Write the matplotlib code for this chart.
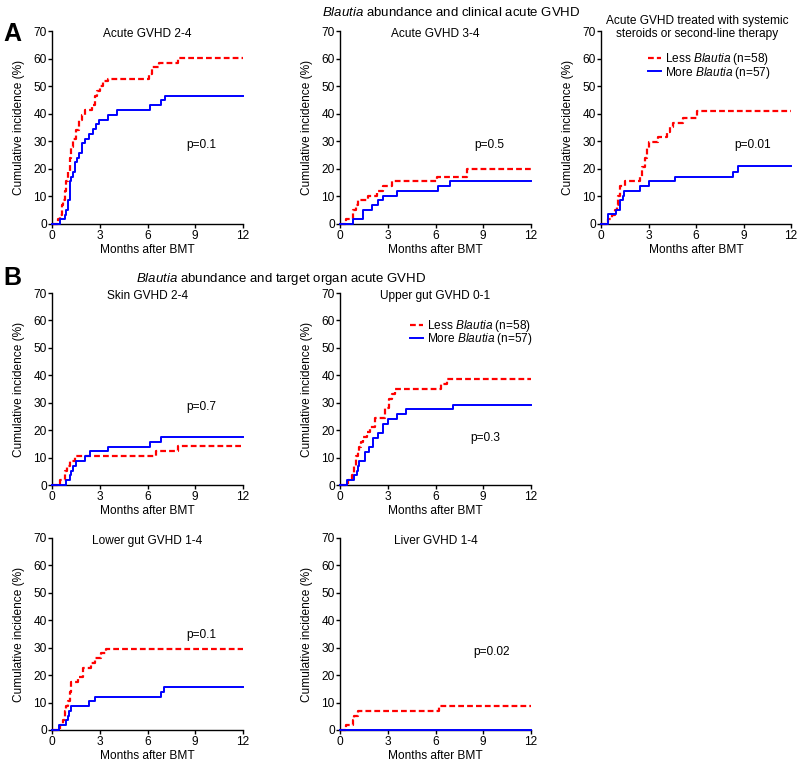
import matplotlib
matplotlib.use('Agg')
import matplotlib.pyplot as plt

plt.rcParams['font.family'] = ['Liberation Sans', 'DejaVu Sans']
plt.rcParams['mathtext.fontset'] = 'custom'
plt.rcParams['mathtext.rm'] = 'Liberation Sans'
plt.rcParams['mathtext.it'] = 'Liberation Sans:italic'

FS = 8.6

# ---- data: step curves (months, cumulative incidence %) ----
# A: acute GVHD 2-4
a24_less_t = [0, 0.4, 0.5, 0.6, 0.7, 0.8, 0.9, 1.0, 1.1, 1.2, 1.35, 1.5, 1.7,
              1.9, 2.1, 2.5, 2.7, 2.85, 3.0, 3.2, 3.5, 6.1, 6.3, 6.7, 7.9, 12]
a24_less_v = [0, 1.7, 3.4, 6.9, 8.6, 12.0, 15.5, 19.0, 24.0, 28.0, 31.0, 34.0,
              37.9, 39.7, 41.4, 43.1, 46.6, 48.3, 50.0, 51.7, 52.6, 54.4, 56.9,
              58.3, 60.2, 60.2]
a24_more_t = [0, 0.48, 0.8, 0.9, 1.0, 1.1, 1.2, 1.35, 1.45, 1.55, 1.7, 1.9,
              2.1, 2.35, 2.55, 2.75, 2.95, 3.5, 4.1, 6.15, 6.85, 7.1, 12]
a24_more_v = [0, 1.7, 3.4, 5.2, 8.6, 15.5, 17.2, 19.0, 22.4, 24.1, 25.9, 29.3,
              31.0, 32.8, 34.5, 36.2, 37.9, 39.6, 41.4, 43.1, 44.8, 46.6, 46.6]

# A: acute GVHD 3-4
a34_less_t = [0, 0.38, 0.84, 1.0, 1.15, 1.78, 2.3, 2.72, 3.25, 6.07, 7.96, 12]
a34_less_v = [0, 1.7, 5.2, 6.9, 8.6, 10.3, 12.1, 13.8, 15.5, 17.2, 19.8, 19.8]
a34_more_t = [0, 0.84, 1.47, 1.99, 2.4, 2.72, 3.56, 6.18, 6.9, 12]
a34_more_v = [0, 1.7, 5.2, 6.9, 8.6, 10.3, 12.1, 13.8, 15.5, 15.5]

# A: treated with steroids / second-line
ster_less_t = [0, 0.46, 0.67, 0.88, 1.0, 1.1, 1.2, 1.5, 2.46, 2.6, 2.75, 2.88,
               3.0, 3.62, 4.15, 4.35, 4.57, 5.2, 6.04, 12]
ster_less_v = [0, 1.7, 3.4, 5.2, 6.9, 10.3, 13.8, 15.5, 17.2, 20.7, 24.1, 27.6,
               29.8, 31.5, 33.3, 35.1, 36.8, 38.6, 40.9, 40.9]
ster_more_t = [0, 0.46, 0.95, 1.2, 1.37, 1.45, 2.46, 3.0, 4.67, 8.36, 8.67, 12]
ster_more_v = [0, 3.5, 5.2, 8.6, 10.3, 12.1, 13.8, 15.5, 17.2, 19.0, 20.9, 20.9]

# B: skin GVHD 2-4
skin_less_t = [0, 0.48, 0.8, 0.95, 1.1, 1.42, 6.53, 7.94, 12]
skin_less_v = [0, 1.7, 5.2, 7.0, 8.8, 10.5, 12.3, 14.2, 14.2]
skin_more_t = [0, 0.9, 1.1, 1.2, 1.35, 1.5, 2.05, 2.37, 3.52, 6.14, 6.83, 12]
skin_more_v = [0, 1.7, 3.5, 5.2, 7.0, 8.8, 10.5, 12.3, 14.0, 15.8, 17.5, 17.5]

# B: upper gut GVHD 0-1
ugut_less_t = [0, 0.53, 0.74, 0.9, 1.0, 1.1, 1.2, 1.3, 1.47, 1.68, 1.9, 2.2,
               2.84, 3.05, 3.26, 3.47, 6.32, 6.74, 12]
ugut_less_v = [0, 1.7, 3.5, 7.0, 10.5, 12.3, 14.0, 15.8, 17.5, 19.3, 21.0, 24.5,
               28.0, 31.5, 33.3, 35.0, 36.8, 38.5, 38.5]
ugut_more_t = [0, 0.46, 0.88, 1.05, 1.15, 1.22, 1.58, 1.85, 2.1, 2.36, 2.7,
               2.99, 3.58, 4.17, 7.12, 12]
ugut_more_v = [0, 1.7, 3.5, 5.2, 6.9, 8.6, 12.1, 13.8, 17.2, 19.0, 22.4, 24.1,
               25.9, 27.6, 29.3, 29.3]

# B: lower gut GVHD 1-4
lgut_less_t = [0, 0.48, 0.69, 0.8, 0.9, 1.0, 1.1, 1.21, 1.63, 1.95, 2.47, 2.68,
               3.1, 3.37, 12]
lgut_less_v = [0, 1.7, 3.5, 7.0, 8.8, 10.5, 14.0, 17.5, 19.2, 22.7, 24.5, 26.2,
               28.0, 29.7, 29.7]
lgut_more_t = [0, 0.44, 0.9, 1.0, 1.07, 1.17, 2.33, 2.72, 6.83, 7.04, 12]
lgut_more_v = [0, 1.7, 3.5, 5.2, 7.0, 8.7, 10.5, 12.2, 14.0, 15.7, 15.7]

# B: liver GVHD 1-4
liver_less_t = [0, 0.38, 0.8, 0.9, 1.16, 6.21, 12]
liver_less_v = [0, 1.7, 3.5, 5.2, 7.0, 8.8, 8.8]
liver_more_t = [0, 12]
liver_more_v = [0, 0]

titles = ['Acute GVHD 2-4', 'Acute GVHD 3-4',
          'Acute GVHD treated with systemic\nsteroids or second-line therapy',
          'Skin GVHD 2-4', 'Upper gut GVHD 0-1',
          'Lower gut GVHD 1-4', 'Liver GVHD 1-4']
p_labels = ['p=0.1', 'p=0.5', 'p=0.01', 'p=0.7', 'p=0.3', 'p=0.1', 'p=0.02']
p_x = [9.35, 9.35, 9.6, 9.35, 9.15, 9.35, 9.55]
p_y = [28.7, 28.7, 28.7, 28.5, 17.0, 34.6, 28.5]

less_label = 'Less $\\it{Blautia}$ (n=58)'
more_label = 'More $\\it{Blautia}$ (n=57)'

RED = '#ff0000'
BLUE = '#0000ff'

W, H = 800.0, 763.0


def px_axes(left, top, right, bottom):
    return [left / W, 1 - bottom / H, (right - left) / W, (bottom - top) / H]


fig = plt.figure(figsize=(8.0, 7.63), dpi=100)

positions = [
    px_axes(52, 31, 243, 224),
    px_axes(340, 31, 531, 224),
    px_axes(601, 31, 791, 224),
    px_axes(52, 293, 243, 485),
    px_axes(340, 293, 531, 485),
    px_axes(52, 538, 243, 730),
    px_axes(340, 538, 531, 730),
]

curves = [
    (a24_less_t, a24_less_v, a24_more_t, a24_more_v),
    (a34_less_t, a34_less_v, a34_more_t, a34_more_v),
    (ster_less_t, ster_less_v, ster_more_t, ster_more_v),
    (skin_less_t, skin_less_v, skin_more_t, skin_more_v),
    (ugut_less_t, ugut_less_v, ugut_more_t, ugut_more_v),
    (lgut_less_t, lgut_less_v, lgut_more_t, lgut_more_v),
    (liver_less_t, liver_less_v, liver_more_t, liver_more_v),
]

# legend anchors (axes fraction) for the panels that carry one
legend_at = {2: (0.245, 0.895), 4: (0.365, 0.87)}

for i, (pos, (lt, lv, mt, mv)) in enumerate(zip(positions, curves)):
    ax = fig.add_axes(pos)
    ax.step(lt, lv, where='post', color=RED, lw=1.6, dashes=(2.6, 1.4),
            clip_on=False, zorder=3, label=less_label)
    ax.step(mt, mv, where='post', color=BLUE, lw=1.4, clip_on=False,
            zorder=4, label=more_label)

    ax.set_xlim(0, 12)
    ax.set_ylim(0, 70)
    ax.set_xticks([0, 3, 6, 9, 12])
    ax.set_yticks(range(0, 71, 10))
    for side in ('top', 'right'):
        ax.spines[side].set_visible(False)
    for side in ('left', 'bottom'):
        ax.spines[side].set_linewidth(1.0)
    ax.tick_params(direction='out', length=3, width=1.0, labelsize=FS,
                   pad=1.5)
    ax.tick_params(axis='y', pad=0.8)

    ax.set_xlabel('Months after BMT', fontsize=FS, labelpad=1)
    ax.set_ylabel('Cumulative incidence (%)', fontsize=FS, labelpad=6)

    if '\n' in titles[i]:
        ax.text(0.505, 1.018, titles[i], transform=ax.transAxes,
                ha='center', va='center', fontsize=FS, linespacing=1.12)
    else:
        ax.text(0.5, 0.985, titles[i], transform=ax.transAxes,
                ha='center', va='center', fontsize=FS)

    ax.text(p_x[i], p_y[i], p_labels[i], ha='center', va='center',
            fontsize=FS)

    if i in legend_at:
        ax.legend(loc='upper left', bbox_to_anchor=legend_at[i],
                  frameon=False, fontsize=FS, handlelength=1.1,
                  handletextpad=0.35, labelspacing=-0.22, borderpad=0,
                  borderaxespad=0)

fig.text(3 / W, 1 - 41 / H, 'A', fontsize=18, fontweight='bold',
         ha='left', va='baseline')
fig.text(3 / W, 1 - 285 / H, 'B', fontsize=18, fontweight='bold',
         ha='left', va='baseline')

fig.text(451 / W, 1 - 13 / H,
         '$\\it{Blautia}$ abundance and clinical acute GVHD',
         fontsize=9.5, ha='center', va='center')
fig.text(281 / W, 1 - 279 / H,
         '$\\it{Blautia}$ abundance and target organ acute GVHD',
         fontsize=9.5, ha='center', va='center')

fig.savefig('out.png', dpi=100)
